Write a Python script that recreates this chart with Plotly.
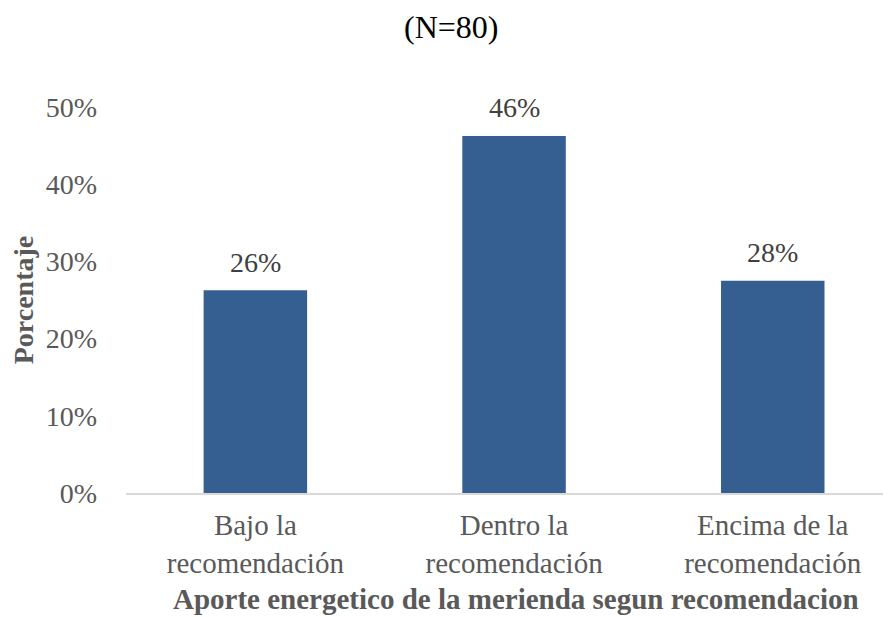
import plotly.graph_objects as go

categories = ["Bajo la<br>recomendación", "Dentro la<br>recomendación", "Encima de la<br>recomendación"]
values = [0.2625, 0.4625, 0.275]
y_ticks = [0, 0.1, 0.2, 0.3, 0.4, 0.5]
y_tick_labels = ["0%", "10%", "20%", "30%", "40%", "50%"]

FONT = "Liberation Serif, Times New Roman, serif"

fig = go.Figure(go.Bar(
    x=categories, y=values, width=0.4,
    marker=dict(color="#355E91", line=dict(width=0)),
))

# data labels above bars
for c, v in zip(categories, values):
    fig.add_annotation(x=c, y=v, xref="x", yref="y", text=f"{round(v * 100 + 1e-9):d}%",
                       showarrow=False, yanchor="middle", yshift=28,
                       font=dict(family=FONT, size=28, color="#404040"))

# x-axis title (Excel centres it on the full, partly clipped, plot area)
fig.add_annotation(x=0.51, y=0, xref="paper", yref="paper", xanchor="center", yanchor="middle",
                   yshift=-106, showarrow=False, borderpad=0,
                   text="<b>Aporte energetico de la merienda segun recomendacion</b>",
                   font=dict(family=FONT, size=29, color="#595959"))

# page body has an 8px default margin: figure is offset by (8, 8)
fig.update_layout(
    width=883, height=609,
    margin=dict(l=118, r=0, t=99, b=124),
    paper_bgcolor="white", plot_bgcolor="white",
    font=dict(family=FONT, size=28, color="#595959"),
    showlegend=False,
    title=dict(text="(N=80)", x=0.502, xref="container", xanchor="center",
               y=1 - 19 / 609, yref="container", yanchor="middle",
               font=dict(family=FONT, size=32, color="#000000")),
)
fig.update_xaxes(
    range=[-0.5, 2.457], showline=True, linecolor="#D9D9D9", linewidth=2,
    showgrid=False, ticks="", ticklabelstandoff=5,
    tickfont=dict(family=FONT, size=29, color="#595959"),
)
fig.update_yaxes(
    range=[0, 0.5], tickvals=y_ticks, ticktext=y_tick_labels,
    showgrid=False, showline=False, zeroline=False, ticks="", ticklabelstandoff=28,
    tickfont=dict(family=FONT, size=28, color="#595959"),
    title=dict(text="<b>Porcentaje</b>", font=dict(family=FONT, size=28, color="#595959"), standoff=4),
)

fig.write_html("out.html")
